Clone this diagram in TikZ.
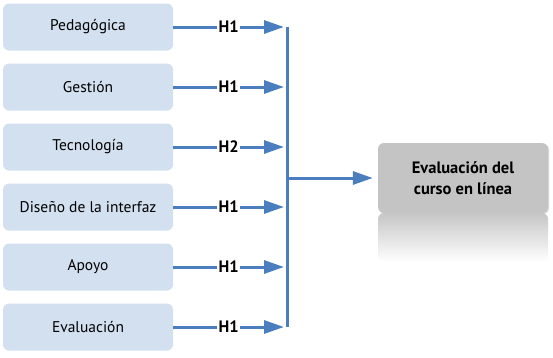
\documentclass[tikz,border=0pt]{standalone}
\usepackage{fontspec}
\setmainfont{PT Sans}
\usetikzlibrary{positioning,arrows.meta,calc,shadows}

\definecolor{boxblue}{HTML}{D3E0F0}
\definecolor{lineblue}{HTML}{4A7EBF}
\definecolor{boxgray}{HTML}{C4C4C4}

\begin{document}
\begin{tikzpicture}[
    x=1pt, y=-1pt,
    factor/.style={rectangle, fill=boxblue, rounded corners=6pt, minimum width=170pt, minimum height=47pt, font=\fontsize{15.5}{17}\selectfont},
    result/.style={rectangle, fill=boxgray, rounded corners=6pt, minimum width=170pt, minimum height=70pt, align=center, font=\fontsize{16.5}{21}\selectfont\bfseries, drop shadow={shadow xshift=1pt, shadow yshift=-1pt, opacity=0.3}},
    link/.style={-{Triangle[length=20pt,width=13pt]}, line width=3pt, draw=lineblue},
    hlabel/.style={fill=white, inner sep=1.5pt, font=\fontsize{16.5}{17}\selectfont\bfseries}
]
\useasboundingbox (0,0) rectangle (553,357);

% Factors
\node[factor] (ped) at (88,27) {Pedagógica};
\node[factor] (ges) at (88,87) {Gestión};
\node[factor] (tec) at (88,147) {Tecnología};
\node[factor] (dis) at (88,207) {Diseño de la interfaz};
\node[factor] (apo) at (88,267) {Apoyo};
\node[factor] (eva) at (88,327) {Evaluación};

% Collector bar
\coordinate (bartop) at (287,27);
\coordinate (barbot) at (287,327);
\draw[line width=3pt, draw=lineblue] (bartop) -- (barbot);

% Arrows with hypotheses
\draw[link] (ped.east) -- node[hlabel] {H1} (ped.east -| 284,0);
\draw[link] (ges.east) -- node[hlabel] {H1} (ges.east -| 284,0);
\draw[link] (tec.east) -- node[hlabel] {H2} (tec.east -| 284,0);
\draw[link] (dis.east) -- node[hlabel] {H1} (dis.east -| 284,0);
\draw[link] (apo.east) -- node[hlabel] {H1} (apo.east -| 284,0);
\draw[link] (eva.east) -- node[hlabel] {H1} (eva.east -| 284,0);

% Result
\node[result] (res) at (463,178) {Evaluación del\\curso en línea};
\shade[top color=gray!45, bottom color=white, rounded corners=6pt] (378,213) rectangle (548,262);
\coordinate (barmid) at (287,178);
\draw[link] (barmid) -- ($(res.west)+(-5,0)$);

\end{tikzpicture}
\end{document}
